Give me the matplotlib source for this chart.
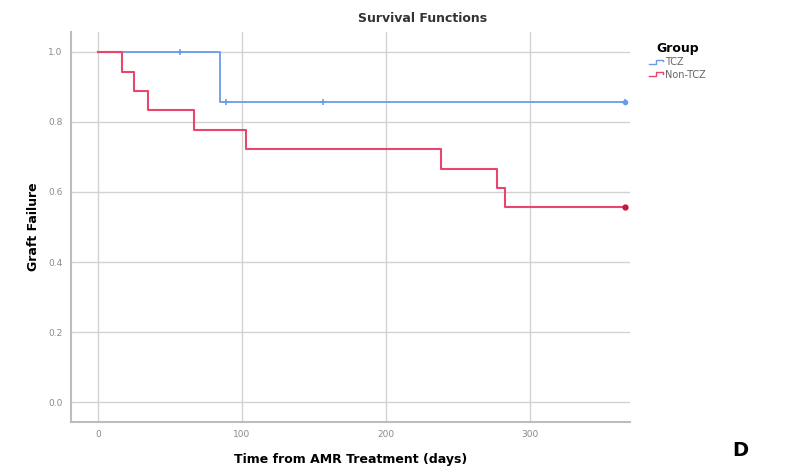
import numpy as np
import matplotlib.pyplot as plt
from matplotlib.legend_handler import HandlerBase
from matplotlib.lines import Line2D

# Kaplan-Meier steps (days, survival)
tcz_t = [0, 85, 366]
tcz_s = [1.0, 0.857, 0.857]
tcz_cens_t = [57, 89, 156, 366]
tcz_cens_s = [1.0, 0.857, 0.857, 0.857]

non_t = [0, 17, 25, 35, 67, 103, 238, 277, 283, 366]
non_s = [1.0, 0.944, 0.889, 0.833, 0.778, 0.722, 0.667, 0.611, 0.556, 0.556]
non_cens_t = [366]
non_cens_s = [0.556]

groups = ["TCZ", "Non-TCZ"]
colors = ["#6b9be6", "#e8466c"]

x_ticks = [0, 100, 200, 300]
y_ticks = [0.0, 0.2, 0.4, 0.6, 0.8, 1.0]


class StepHandler(HandlerBase):
    def create_artists(self, legend, orig_handle, xd, yd, w, h, fontsize, trans):
        xs = [xd, xd + w * 0.45, xd + w * 0.45, xd + w * 0.9, xd + w * 0.9]
        ys = [yd + h * 0.2, yd + h * 0.2, yd + h * 0.8, yd + h * 0.8, yd + h * 0.55]
        ln = Line2D(xs, ys, color=orig_handle.get_color(), lw=1.0, transform=trans)
        return [ln]


fig = plt.figure(figsize=(7.97, 4.68), dpi=100)
ax = fig.add_axes([71 / 797, 1 - 422 / 468, (630 - 71) / 797, (422 - 32) / 468])

h1, = ax.step(tcz_t, tcz_s, where="post", color=colors[0], lw=1.3)
ax.plot(tcz_cens_t, tcz_cens_s, "+", color=colors[0], ms=4, mew=1.2)
ax.plot(tcz_cens_t[-1:], tcz_cens_s[-1:], "o", color=colors[0], ms=3)
h2, = ax.step(non_t, non_s, where="post", color=colors[1], lw=1.5)
ax.plot(non_cens_t, non_cens_s, "o", color="#c8163f", ms=3.5)

ax.set_xlim(-18.7, 369.5)
ax.set_ylim(-0.057, 1.057)
ax.set_xticks(x_ticks)
ax.set_yticks(y_ticks)
ax.set_yticklabels([f"{v:.1f}" for v in y_ticks])
ax.grid(True, color="#d2d2d2", lw=1.0)
ax.set_axisbelow(True)
for s in ["top", "right"]:
    ax.spines[s].set_visible(False)
for s in ["left", "bottom"]:
    ax.spines[s].set_color("#bdbdbd")
    ax.spines[s].set_linewidth(1.5)
ax.tick_params(length=0, labelsize=6.5, labelcolor="#8a8a8a", pad=6)

ax.set_xlabel("Time from AMR Treatment (days)", fontsize=9, fontweight="bold", labelpad=10)
ax.set_ylabel("Graft Failure", fontsize=9, fontweight="bold", labelpad=6)

fig.text(423 / 797, 1 - 18 / 468, "Survival Functions", ha="center", va="center",
         fontsize=9, fontweight="bold", color="#333333")

leg = fig.legend([h1, h2], groups, loc="upper left", bbox_to_anchor=(640 / 797, 1 - 33 / 468),
                 title="Group", frameon=False, fontsize=7, handlelength=1.6,
                 handletextpad=0.1, labelspacing=0.25,
                 handler_map={Line2D: StepHandler()})
leg.get_title().set_fontweight("bold")
leg.get_title().set_fontsize(9)
for t in leg.get_texts():
    t.set_color("#666666")

fig.text(740 / 797, 1 - 450 / 468, "D", ha="center", va="center", fontsize=14, fontweight="bold")

fig.savefig("out.png", dpi=100)
